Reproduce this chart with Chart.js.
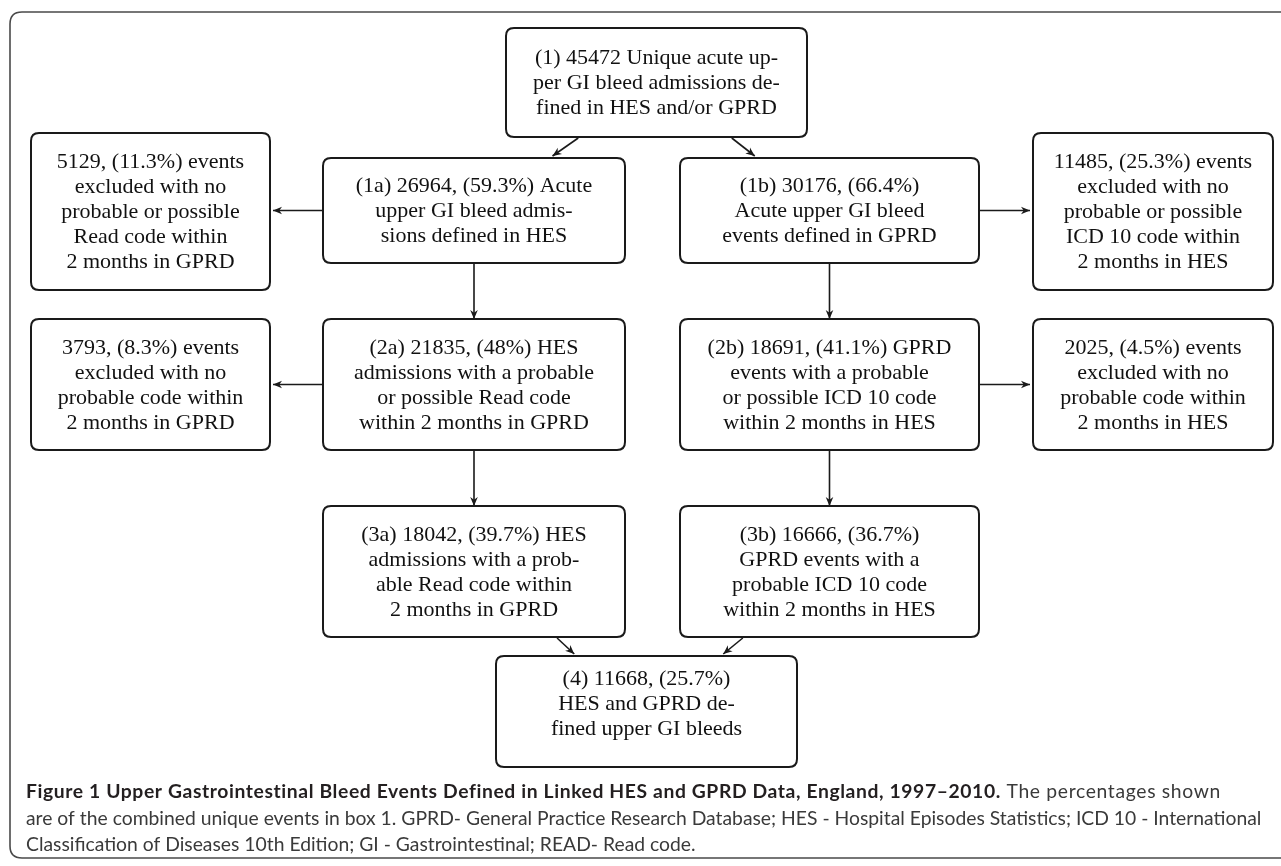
<!DOCTYPE html>
<html><head><meta charset="utf-8">
<script src="https://cdn.jsdelivr.net/npm/chart.js@4/dist/chart.umd.min.js"></script>
<style>html,body{margin:0;padding:0;background:#fff;overflow:hidden}canvas{display:block}</style>
</head><body>
<canvas id="c" width="1281" height="866"></canvas>
<script>
// ---------- DATA ----------
const boxIds   = ['1', '1a', '1b', 'x1a', 'x1b', '2a', '2b', 'x2a', 'x2b', '3a', '3b', '4'];
const counts   = [45472, 26964, 30176, 5129, 11485, 21835, 18691, 3793, 2025, 18042, 16666, 11668];
const percents = [null, 59.3, 66.4, 11.3, 25.3, 48, 41.1, 8.3, 4.5, 39.7, 36.7, 25.7];
const boxText = [
  ['(1) {n} Unique acute up-', 'per GI bleed admissions de-', 'fined in HES and/or GPRD'],
  ['(1a) {n}, ({p}%) Acute', 'upper GI bleed admis-', 'sions defined in HES'],
  ['(1b) {n}, ({p}%)', 'Acute upper GI bleed', 'events defined in GPRD'],
  ['{n}, ({p}%) events', 'excluded with no', 'probable or possible', 'Read code within', '2 months in GPRD'],
  ['{n}, ({p}%) events', 'excluded with no', 'probable or possible', 'ICD 10 code within', '2 months in HES'],
  ['(2a) {n}, ({p}%) HES', 'admissions with a probable', 'or possible Read code', 'within 2 months in GPRD'],
  ['(2b) {n}, ({p}%) GPRD', 'events with a probable', 'or possible ICD 10 code', 'within 2 months in HES'],
  ['{n}, ({p}%) events', 'excluded with no', 'probable code within', '2 months in GPRD'],
  ['{n}, ({p}%) events', 'excluded with no', 'probable code within', '2 months in HES'],
  ['(3a) {n}, ({p}%) HES', 'admissions with a prob-', 'able Read code within', '2 months in GPRD'],
  ['(3b) {n}, ({p}%)', 'GPRD events with a', 'probable ICD 10 code', 'within 2 months in HES'],
  ['(4) {n}, ({p}%)', 'HES and GPRD de-', 'fined upper GI bleeds']
];
// links: [from, to, kind]
const links = [
  ['1', '1a', 'diag'], ['1', '1b', 'diag'],
  ['1a', 'x1a', 'side'], ['1b', 'x1b', 'side'],
  ['1a', '2a', 'down'], ['1b', '2b', 'down'],
  ['2a', 'x2a', 'side'], ['2b', 'x2b', 'side'],
  ['2a', '3a', 'down'], ['2b', '3b', 'down'],
  ['3a', '4', 'diag'], ['3b', '4', 'diag']
];
const captionBold = 'Figure 1 Upper Gastrointestinal Bleed Events Defined in Linked HES and GPRD Data, England, 1997\u20132010.';
const captionLines = [
  ' The percentages shown',
  'are of the combined unique events in box 1. GPRD- General Practice Research Database; HES - Hospital Episodes Statistics; ICD 10 - International',
  'Classification of Diseases 10th Edition; GI - Gastrointestinal; READ- Read code.'
];

// ---------- LAYOUT (scale units = page pixels) ----------
const layout = {
  '1':   [506, 807, 28, 137],
  '1a':  [323, 625, 158, 263],
  '1b':  [680, 979, 158, 263],
  'x1a': [31, 270, 133, 290],
  'x1b': [1033, 1273, 133, 290],
  '2a':  [323, 625, 319, 450],
  '2b':  [680, 979, 319, 450],
  'x2a': [31, 270, 319, 450],
  'x2b': [1033, 1273, 319, 450],
  '3a':  [323, 625, 506, 637],
  '3b':  [680, 979, 506, 637],
  '4':   [496, 797, 656, 767]
};
// diagonal start/end fractions along source bottom / target top
const diagFrac = {
  '1>1a': [0.24, 0.76], '1>1b': [0.75, 0.25],
  '3a>4': [0.775, 0.26], '3b>4': [0.21, 0.755]
};
const LINE_H = 25;

function fmt(s, i) {
  return s.replace('{n}', counts[i]).replace('{p}', percents[i]);
}
function box(id) { return layout[id]; }
function linkPoints(l) {
  const [a, b, kind] = l;
  const A = box(a), B = box(b);
  if (kind === 'down') {
    const x = (A[0] + A[1]) / 2;
    return [{x, y: A[3]}, {x, y: B[2]}];
  }
  if (kind === 'side') {
    const y = (A[2] + A[3]) / 2;
    if (B[0] > A[1]) return [{x: A[1], y}, {x: B[0] - 3, y}];
    return [{x: A[0], y}, {x: B[1] + 3, y}];
  }
  const f = diagFrac[a + '>' + b];
  return [{x: A[0] + f[0] * (A[1] - A[0]), y: A[3] + 1}, {x: B[0] + f[1] * (B[1] - B[0]), y: B[2] - 2}];
}

const datasets = links.map(l => ({
  type: 'line',
  data: linkPoints(l),
  borderColor: '#1a1a1a',
  borderWidth: 1.6,
  pointRadius: 0,
  showLine: true,
  fill: false,
  tension: 0
}));

function rr(ctx, x0, y0, x1, y1, r) {
  ctx.beginPath();
  ctx.moveTo(x0 + r, y0);
  ctx.lineTo(x1 - r, y0);
  ctx.quadraticCurveTo(x1, y0, x1, y0 + r);
  ctx.lineTo(x1, y1 - r);
  ctx.quadraticCurveTo(x1, y1, x1 - r, y1);
  ctx.lineTo(x0 + r, y1);
  ctx.quadraticCurveTo(x0, y1, x0, y1 - r);
  ctx.lineTo(x0, y0 + r);
  ctx.quadraticCurveTo(x0, y0, x0 + r, y0);
  ctx.closePath();
}

const flowPlugin = {
  id: 'flow',
  beforeDatasetsDraw(chart) {
    const ctx = chart.ctx, X = chart.scales.x, Y = chart.scales.y;
    ctx.save();
    rr(ctx, X.getPixelForValue(10), Y.getPixelForValue(12), X.getPixelForValue(1292), Y.getPixelForValue(858), 12);
    ctx.strokeStyle = '#4a4a4a';
    ctx.lineWidth = 1.6;
    ctx.stroke();
    ctx.restore();
  },
  afterDatasetsDraw(chart) {
    const ctx = chart.ctx, X = chart.scales.x, Y = chart.scales.y;
    ctx.save();
    // arrowheads
    chart.data.datasets.forEach(ds => {
      const p0 = ds.data[0], p1 = ds.data[1];
      const x0 = X.getPixelForValue(p0.x), y0 = Y.getPixelForValue(p0.y);
      const x1 = X.getPixelForValue(p1.x), y1 = Y.getPixelForValue(p1.y);
      const ang = Math.atan2(y1 - y0, x1 - x0);
      const L = 9, W = 3.8;
      ctx.beginPath();
      ctx.moveTo(x1, y1);
      ctx.lineTo(x1 - L * Math.cos(ang) + W * Math.sin(ang), y1 - L * Math.sin(ang) - W * Math.cos(ang));
      ctx.lineTo(x1 - 0.7 * L * Math.cos(ang), y1 - 0.7 * L * Math.sin(ang));
      ctx.lineTo(x1 - L * Math.cos(ang) - W * Math.sin(ang), y1 - L * Math.sin(ang) + W * Math.cos(ang));
      ctx.closePath();
      ctx.fillStyle = '#1a1a1a';
      ctx.fill();
    });
    // boxes
    boxIds.forEach((id, i) => {
      const b = layout[id];
      const x0 = X.getPixelForValue(b[0]), x1 = X.getPixelForValue(b[1]);
      const y0 = Y.getPixelForValue(b[2]), y1 = Y.getPixelForValue(b[3]);
      rr(ctx, x0, y0, x1, y1, 8);
      ctx.fillStyle = '#ffffff';
      ctx.fill();
      ctx.strokeStyle = '#1a1a1a';
      ctx.lineWidth = 2;
      ctx.stroke();
      const lines = boxText[i].map(s => fmt(s, i));
      ctx.fillStyle = '#111';
      ctx.font = '22px "Liberation Serif", "Times New Roman", serif';
      ctx.textAlign = 'center';
      ctx.textBaseline = 'middle';
      const cx = (x0 + x1) / 2;
      const cy = (y0 + y1) / 2 - (id === '4' ? 8 : 0);
      const n = lines.length;
      lines.forEach((t, k) => {
        ctx.fillText(t, cx, cy + (k - (n - 1) / 2) * LINE_H + 1);
      });
    });
    // caption
    const left = X.getPixelForValue(26);
    const fam = 'Lato, "Open Sans", sans-serif';
    ctx.textAlign = 'left';
    ctx.textBaseline = 'alphabetic';
    ctx.font = '100px ' + fam;
    const w2 = ctx.measureText(captionLines[1]).width;
    const fs = 100 * (X.getPixelForValue(1262) - left) / w2;
    const yb = [798, 825, 851].map(v => Y.getPixelForValue(v));
    ctx.font = 'bold ' + fs + 'px ' + fam;
    ctx.fillStyle = '#231f20';
    const natB = ctx.measureText(captionBold).width;
    const tgtB = X.getPixelForValue(1001) - left;
    const ls = (tgtB - natB) / captionBold.length;
    if ('letterSpacing' in ctx) ctx.letterSpacing = ls + 'px';
    ctx.fillText(captionBold, left, yb[0]);
    const bw = ctx.measureText(captionBold).width;
    if ('letterSpacing' in ctx) ctx.letterSpacing = '0px';
    ctx.font = fs + 'px ' + fam;
    ctx.fillStyle = '#3a3a3a';
    const natR = ctx.measureText(captionLines[0]).width;
    const tgtR = X.getPixelForValue(1221) - left - bw;
    if ('letterSpacing' in ctx) ctx.letterSpacing = ((tgtR - natR) / captionLines[0].length) + 'px';
    ctx.fillText(captionLines[0], left + bw, yb[0]);
    if ('letterSpacing' in ctx) ctx.letterSpacing = '0px';
    ctx.fillText(captionLines[1], left, yb[1]);
    ctx.fillText(captionLines[2], left, yb[2]);
    ctx.restore();
  }
};

new Chart(document.getElementById('c'), {
  type: 'scatter',
  data: { datasets },
  options: {
    responsive: false,
    animation: false,
    events: [],
    layout: { padding: 0 },
    plugins: { legend: { display: false }, tooltip: { enabled: false }, title: { display: false } },
    scales: {
      x: { type: 'linear', min: 0, max: 1281, display: false },
      y: { type: 'linear', min: 0, max: 866, reverse: true, display: false }
    }
  },
  plugins: [flowPlugin]
});
</script>
</body></html>
